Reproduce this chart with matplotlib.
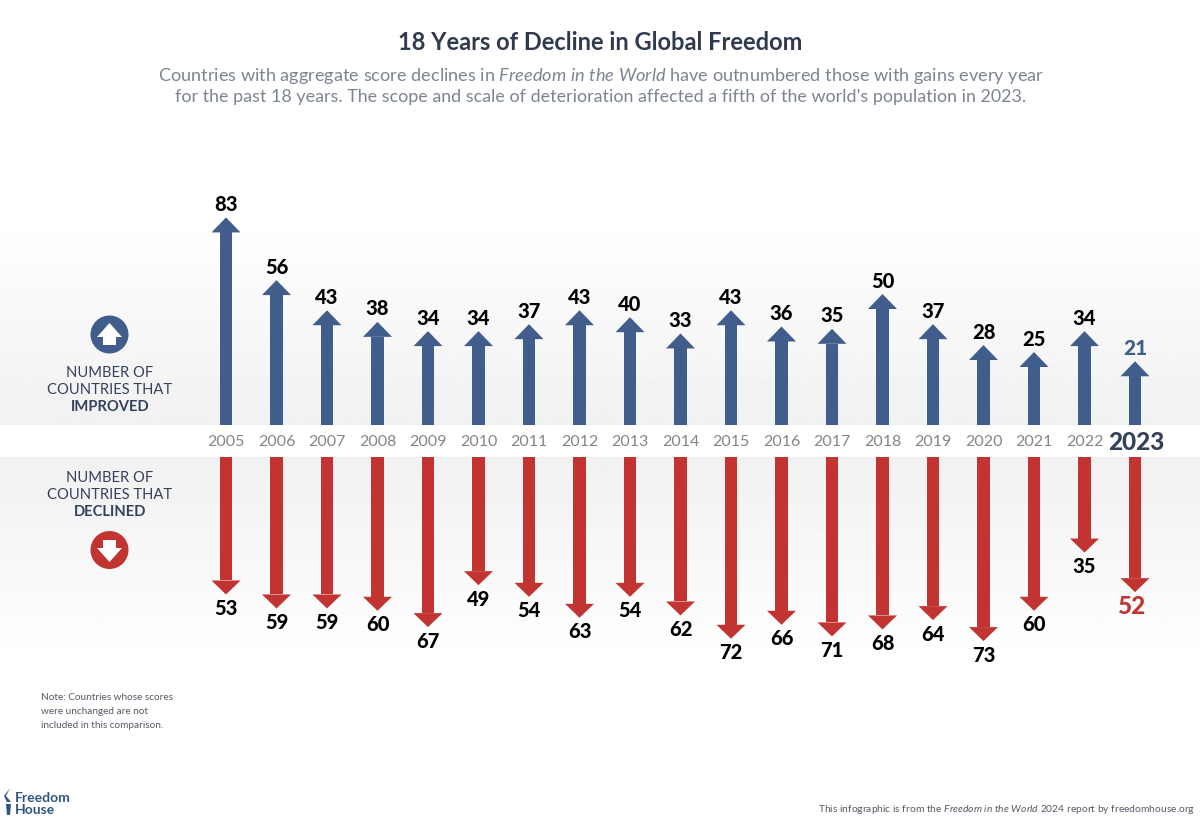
#!/usr/bin/env python3
import numpy as np
import matplotlib
matplotlib.use('Agg')
import matplotlib.pyplot as plt
from matplotlib.patches import Circle, Polygon

# data
years = list(range(2005, 2024))
improved = [83, 56, 43, 38, 34, 34, 37, 43, 40, 33, 43, 36, 35, 50, 37, 28, 25, 34, 21]
declined = [53, 59, 59, 60, 67, 49, 54, 63, 54, 62, 72, 66, 71, 68, 64, 73, 60, 35, 52]

title = '18 Years of Decline in Global Freedom'
subtitle_1 = r'Countries with aggregate score declines in $\mathit{Freedom\ in\ the\ World}$ have outnumbered those with gains every year'
subtitle_2 = 'for the past 18 years. The scope and scale of deterioration affected a fifth of the world\u2019s population in 2023.'

BLUE = '#405d8c'
RED = '#c13432'
NAVY = '#34415a'
W, H = 1200, 821
PX = 0.72  # px to pt at dpi 100

plt.rcParams['font.family'] = ['Lato', 'DejaVu Sans']
plt.rcParams['mathtext.fontset'] = 'custom'
plt.rcParams['mathtext.it'] = 'Lato:italic'
plt.rcParams['mathtext.rm'] = 'Lato'

fig = plt.figure(figsize=(W / 100, H / 100), dpi=100, facecolor='white')

# background in pixel coords
bg = fig.add_axes([0, 0, 1, 1])
bg.axis('off')
grad = np.linspace(1, 0.945, 200).reshape(-1, 1)
bg.imshow(grad, extent=(0, W, 425, 215), cmap='gray', vmin=0, vmax=1, aspect='auto')
bg.imshow(grad[::-1], extent=(0, W, 665, 457), cmap='gray', vmin=0, vmax=1, aspect='auto')
bg.set_xlim(0, W)
bg.set_ylim(H, 0)

xlim = (2005 - 226 / 50.5, 2005 + (W - 226) / 50.5)
up_scale, down_scale = 2.32, 2.33
head_w, shaft_w = 29 / 50.5, 12.5 / 50.5

ax_up = fig.add_axes([0, (H - 425) / H, 1, 425 / H])
ax_up.set_xlim(xlim)
ax_up.set_ylim(0, 425 / up_scale)
ax_up.axis('off')
ax_down = fig.add_axes([0, 0, 1, (H - 457) / H])
ax_down.set_xlim(xlim)
ax_down.set_ylim((H - 457) / down_scale, 0)
ax_down.axis('off')


def draw_arrows(ax, vals, color, scale, head_h, direction, gap):
    h = head_h / scale
    ax.bar(years, vals, width=shaft_w, color=color, linewidth=0)
    for yr, v in zip(years, vals):
        ax.add_patch(Polygon([(yr - head_w / 2, v), (yr + head_w / 2, v), (yr, v + h)],
                             closed=True, facecolor=color, edgecolor='none', snap=False))
        last = yr == years[-1]
        lab_color = 'black'
        size = 14.5
        dx = 0
        if last:
            lab_color = BLUE if direction > 0 else RED
            size = 17.5 if direction < 0 else 15
            dx = -4 if direction < 0 else 0
        ax.annotate(str(v), (yr, v + h), xytext=(dx * PX, direction * gap * PX),
                    textcoords='offset points', ha='center', va='center',
                    fontsize=size, fontweight='black', color=lab_color)


draw_arrows(ax_up, improved, BLUE, up_scale, 15, 1, 13)
draw_arrows(ax_down, declined, RED, down_scale, 14, -1, 14)

# year labels
for yr in years:
    x = 226 + (yr - 2005) * 50.5
    if yr == years[-1]:
        bg.text(x + 1, 443, str(yr), ha='center', va='center', fontsize=17.5, fontweight='black', color=NAVY)
    else:
        bg.text(x, 442, str(yr), ha='center', va='center', fontsize=11.5, color='#858585')

# titles
bg.text(600, 42, title, ha='center', va='center', fontsize=17, fontweight='bold', color='#2f3a4f')
bg.text(601, 76, subtitle_1, ha='center', va='center', fontsize=13.1, color='#7d8491')
bg.text(601, 97, subtitle_2, ha='center', va='center', fontsize=12.9, color='#7d8491')

# left legend
bg.add_patch(Circle((109.5, 334.5), 19, facecolor=BLUE, edgecolor='none'))
bg.add_patch(Polygon([(109.5, 323), (122, 337), (116, 337), (116, 345), (103, 345), (103, 337), (97, 337)],
                     facecolor='white', edgecolor='none'))
bg.add_patch(Circle((109.5, 550), 19, facecolor=RED, edgecolor='none'))
bg.add_patch(Polygon([(109.5, 562), (122, 548), (116, 548), (116, 540), (103, 540), (103, 548), (97, 548)],
                     facecolor='white', edgecolor='none'))
for txt, y, w in [('NUMBER OF', 373, 'normal'), ('COUNTRIES THAT', 390, 'normal'), ('IMPROVED', 407, 'bold'),
                  ('NUMBER OF', 478, 'normal'), ('COUNTRIES THAT', 495, 'normal'), ('DECLINED', 512, 'bold')]:
    bg.text(110, y, txt, ha='center', va='center', fontsize=10.6, fontweight=w, color=NAVY)

# note
for txt, y in [('Note: Countries whose scores', 697), ('were unchanged are not', 712), ('included in this comparison.', 726)]:
    bg.text(41, y, txt, ha='left', va='center', fontsize=7.2, color='#555a66')

# logo
bg.text(15, 798, 'Freedom', ha='left', va='center', fontsize=10, fontweight='bold', color='#2f5682')
bg.text(15, 810, 'House', ha='left', va='center', fontsize=10, fontweight='bold', color='#2f5682')
bg.add_patch(Polygon([(6, 804), (11, 804), (10, 815), (7, 815)], facecolor='#2f5682', edgecolor='none'))
bg.add_patch(Polygon([(10, 788), (4, 796), (7, 802), (11, 802), (6, 796)], facecolor='#2f5682', edgecolor='none'))

# source
bg.text(1195, 809, r'This infographic is from the $\mathit{Freedom\ in\ the\ World\ 2024}$ report by freedomhouse.org',
        ha='right', va='center', fontsize=7.4, color='#555a66')

fig.savefig('out.png', dpi=100)
